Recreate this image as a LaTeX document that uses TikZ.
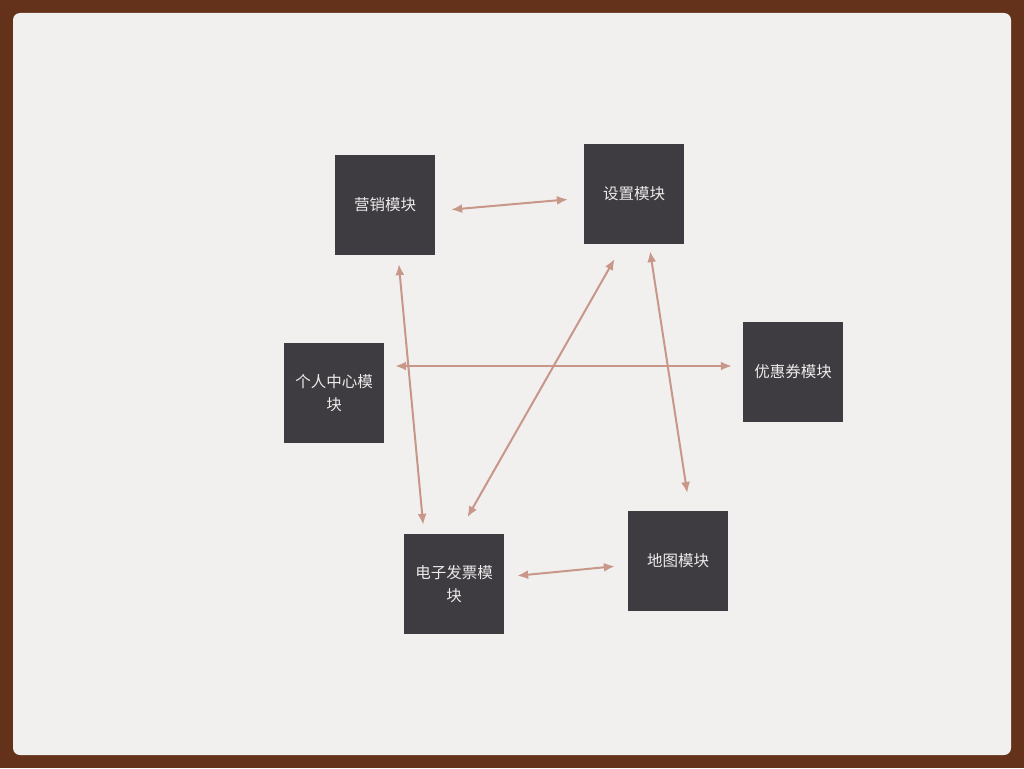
\documentclass[tikz,border=0pt]{standalone}
\usepackage{fontspec}
\newfontfamily\cjk{Noto Sans CJK SC}
\usetikzlibrary{arrows.meta}

\definecolor{frame}{HTML}{64321B}
\definecolor{paper}{HTML}{F1F0EE}
\definecolor{box}{HTML}{3E3C40}
\definecolor{boxtext}{HTML}{ECEBEA}
\definecolor{link}{HTML}{C9968A}

\tikzset{
	module/.style={fill=box, text=boxtext, minimum width=100pt, minimum height=100pt,
		inner sep=0pt, align=center, font=\cjk\fontsize{15.5pt}{23pt}\selectfont},
	link/.style={draw=link, line width=2pt, {Latex[length=11pt,width=9pt]}-{Latex[length=11pt,width=9pt]}}
}

\begin{document}
\begin{tikzpicture}[x=1pt,y=-1pt]
	% frame and paper
	\fill [frame] (0, 0) rectangle (1024, 768);
	\useasboundingbox (0, 0) rectangle (1024, 768);
	\fill [paper, rounded corners=7pt] (13, 13) rectangle (1011, 755);
	
	% modules
	\node [module] (yx) at (385, 205) {营销模块};
	\node [module] (sz) at (634, 194) {设置模块};
	\node [module] (gr) at (334, 393) {个人中心模\\块};
	\node [module] (yh) at (793, 372) {优惠券模块};
	\node [module] (dz) at (454, 584) {电子发票模\\块};
	\node [module] (dt) at (678, 561) {地图模块};
	
	% links
	\draw [link, shorten <=16pt, shorten >=16pt] ([yshift=-6pt]yx.east) -- ([yshift=-4pt]sz.west);
	\draw [link, shorten <=9pt, shorten >=9pt] ([xshift=13pt]yx.south) -- ([xshift=-30pt]dz.north);
	\draw [link, shorten <=17pt, shorten >=19pt] ([xshift=-11pt]sz.south) -- ([xshift=4pt]dz.north);
	\draw [link, shorten <=7pt, shorten >=18pt] ([xshift=15pt]sz.south) -- ([xshift=12pt]dt.north);
	\draw [link, shorten <=11pt, shorten >=11pt] ([yshift=27pt]gr.east) -- ([yshift=6pt]yh.west);
	\draw [link, shorten <=13pt, shorten >=13pt] ([yshift=7pt]dz.east) -- ([yshift=-4pt]dt.west);
	
\end{tikzpicture}
\end{document}
